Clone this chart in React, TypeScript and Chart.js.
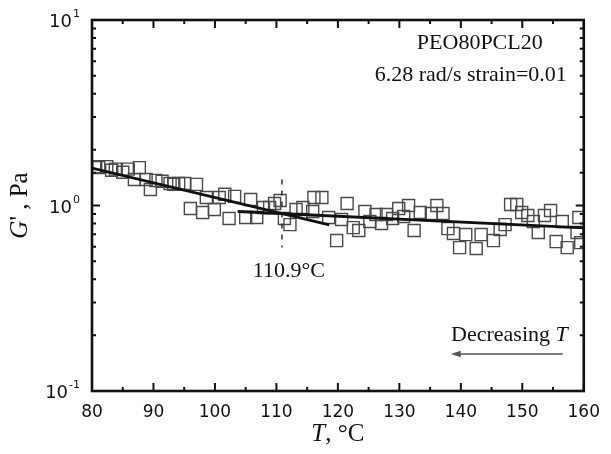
import React, { useEffect, useRef } from 'react';
import { Chart, registerables } from 'chart.js';

Chart.register(...registerables);

// ---- data ----
const temps = [
  80.6, 81.1, 82.4, 83.2, 83.8, 85.0, 85.9, 86.9, 87.7, 88.8,
  89.5, 90.4, 91.4, 92.7, 93.3, 94.1, 95.1, 96.0, 97.0, 98.0,
  98.6, 99.9, 100.7, 101.6, 102.3, 103.2, 105.0, 105.8, 106.8, 107.9,
  108.9, 109.7, 110.6, 111.3, 112.2, 113.2, 114.3, 115.9, 116.1, 117.4,
  118.5, 119.8, 120.6, 121.5, 122.5, 123.4, 124.4, 125.2, 126.2, 127.1,
  127.9, 128.9, 129.9, 130.7, 131.5, 132.4, 133.4, 135.2, 136.1, 137.1,
  137.9, 138.8, 139.8, 140.8, 142.5, 143.3, 145.3, 146.4, 147.2, 148.1,
  149.1, 149.9, 150.9, 151.8, 152.6, 153.6, 154.6, 155.5, 156.5, 157.3,
  158.9, 159.2, 159.5,
];
const gPrime = [
  1.62, 1.60, 1.62, 1.55, 1.57, 1.51, 1.57, 1.38, 1.60, 1.38,
  1.22, 1.365, 1.35, 1.315, 1.30, 1.315, 1.315, 0.963, 1.30, 0.917,
  1.105, 0.951, 1.105, 1.15, 0.851, 1.12, 0.861, 1.077, 0.861, 0.975,
  0.975, 1.025, 1.064, 0.851, 0.789, 0.951, 0.975, 0.928, 1.105, 1.105,
  0.861, 0.647, 0.840, 1.025, 0.760, 0.733, 0.928, 0.820, 0.894, 0.800,
  0.894, 0.851, 0.963, 0.872, 1.0, 0.733, 0.917, 0.905, 1.0, 0.905,
  0.751, 0.706, 0.593, 0.697, 0.586, 0.697, 0.647, 0.742, 0.789, 1.013,
  1.013, 0.917, 0.883, 0.820, 0.715, 0.883, 0.940, 0.639, 0.820, 0.593,
  0.715, 0.861, 0.631,
];
const lowTFitT = [80, 118.6];
const lowTFitG = [1.59, 0.787];
const highTFitT = [103.7, 160];
const highTFitG = [0.928, 0.758];
const transitionT = 110.9;
const transitionLineG = [1.38, 0.593];
const transitionLabel = '110.9°C';
const sampleName = 'PEO80PCL20';
const testConditions = '6.28 rad/s strain=0.01';
const yTickBase = '10';
const yTickExponents: Record<number, string> = { 1: '1', 0: '0', [-1]: '-1' };

const SERIF = '"Liberation Serif", "Times New Roman", serif';
const SANS = '"DejaVu Sans", sans-serif';

type Part = { text: string; italic?: boolean };

function drawRich(ctx: CanvasRenderingContext2D, parts: Part[], x: number, y: number, align: 'left' | 'center' | 'right', size: number) {
  const fonts = parts.map((p) => `${p.italic ? 'italic ' : ''}${size}px ${SERIF}`);
  const widths = parts.map((p, i) => {
    ctx.font = fonts[i];
    return ctx.measureText(p.text).width;
  });
  const total = widths.reduce((a, b) => a + b, 0);
  let cx = align === 'left' ? x : align === 'center' ? x - total / 2 : x - total;
  ctx.textAlign = 'left';
  ctx.textBaseline = 'alphabetic';
  parts.forEach((p, i) => {
    ctx.font = fonts[i];
    ctx.fillText(p.text, cx, y);
    cx += widths[i];
  });
}

const framePlugin = {
  id: 'framePlugin',
  afterDraw(chart: any) {
    const { ctx, chartArea, scales } = chart;
    const { left, right, top, bottom } = chartArea;
    const x = scales.x;
    const y = scales.y;
    ctx.save();
    ctx.strokeStyle = '#111';
    ctx.fillStyle = '#111';
    ctx.lineWidth = 2;
    ctx.beginPath();
    for (const t of x.ticks) {
      const px = x.getPixelForValue(t.value);
      const major = Math.abs(t.value % 10) < 1e-9;
      const len = major ? 8 : 4;
      ctx.moveTo(px, bottom);
      ctx.lineTo(px, bottom - len);
      ctx.moveTo(px, top);
      ctx.lineTo(px, top + len);
    }
    for (const t of y.ticks) {
      const py = y.getPixelForValue(t.value);
      const l = Math.log10(t.value);
      const major = Math.abs(l - Math.round(l)) < 1e-6;
      const len = major ? 8 : 4;
      ctx.moveTo(left, py);
      ctx.lineTo(left + len, py);
      ctx.moveTo(right, py);
      ctx.lineTo(right - len, py);
    }
    ctx.stroke();
    ctx.lineWidth = 2.6;
    ctx.strokeRect(left, top, right - left, bottom - top);

    // y tick labels with superscript exponents
    ctx.fillStyle = '#111';
    ctx.textBaseline = 'alphabetic';
    for (const t of y.ticks) {
      const l = Math.log10(t.value);
      const r = Math.round(l);
      if (Math.abs(l - r) > 1e-6) continue;
      const exp = yTickExponents[r];
      if (exp === undefined) continue;
      const py = y.getPixelForValue(t.value);
      ctx.font = `11px ${SANS}`;
      const ew = ctx.measureText(exp).width;
      ctx.font = `18px ${SANS}`;
      const bw = ctx.measureText(yTickBase).width;
      const xEnd = left - 12;
      ctx.textAlign = 'left';
      ctx.fillText(yTickBase, xEnd - ew - 1 - bw, py + 7);
      ctx.font = `11px ${SANS}`;
      ctx.fillText(exp, xEnd - ew, py - 3);
    }

    // annotations
    drawRich(ctx, [{ text: sampleName }], right - 104, top + 29, 'center', 22);
    drawRich(ctx, [{ text: testConditions }], right - 113, top + 61, 'center', 22);
    drawRich(ctx, [{ text: transitionLabel }], x.getPixelForValue(transitionT) + 7, 277, 'center', 22);
    drawRich(ctx, [{ text: 'Decreasing ' }, { text: 'T', italic: true }], right - 16, bottom - 50, 'right', 22);

    // arrow
    const ay = bottom - 37;
    const ax1 = right - 21;
    const ax2 = right - 133;
    ctx.strokeStyle = '#555';
    ctx.fillStyle = '#555';
    ctx.lineWidth = 1.6;
    ctx.beginPath();
    ctx.moveTo(ax1, ay);
    ctx.lineTo(ax2 + 6, ay);
    ctx.stroke();
    ctx.beginPath();
    ctx.moveTo(ax2, ay);
    ctx.lineTo(ax2 + 10, ay - 3.2);
    ctx.lineTo(ax2 + 10, ay + 3.2);
    ctx.closePath();
    ctx.fill();

    // axis titles
    ctx.fillStyle = '#111';
    drawRich(ctx, [{ text: 'T', italic: true }, { text: ', °C' }], (left + right) / 2, 441, 'center', 25);
    ctx.save();
    ctx.translate(27, (top + bottom) / 2);
    ctx.rotate(-Math.PI / 2);
    drawRich(ctx, [{ text: 'G', italic: true }, { text: "' , Pa" }], 0, 0, 'center', 25);
    ctx.restore();
    ctx.restore();
  },
};

export default function App() {
  const ref = useRef<HTMLCanvasElement | null>(null);
  useEffect(() => {
    if (!ref.current) return;
    const chart = new Chart(ref.current, {
      type: 'scatter',
      data: {
        datasets: [
          {
            data: lowTFitT.map((t, i) => ({ x: t, y: lowTFitG[i] })),
            showLine: true,
            borderColor: '#111',
            borderWidth: 2.8,
            pointRadius: 0,
            order: 0,
          },
          {
            data: highTFitT.map((t, i) => ({ x: t, y: highTFitG[i] })),
            showLine: true,
            borderColor: '#111',
            borderWidth: 2.8,
            pointRadius: 0,
            order: 0,
          },
          {
            data: transitionLineG.map((g) => ({ x: transitionT, y: g })),
            showLine: true,
            borderColor: '#222',
            borderWidth: 1.4,
            borderDash: [5, 6],
            pointRadius: 0,
            order: 0,
          },
          {
            data: temps.map((t, i) => ({ x: t, y: gPrime[i] })),
            pointStyle: 'rect',
            pointRadius: 8.5,
            borderColor: '#4a4a4a',
            borderWidth: 1.4,
            backgroundColor: 'rgba(0,0,0,0)',
            showLine: false,
            order: 1,
          },
        ],
      } as any,
      options: {
        responsive: false,
        animation: false,
        layout: { padding: { left: 0, right: 19, top: 20, bottom: 0 } },
        plugins: { legend: { display: false }, tooltip: { enabled: false } },
        scales: {
          x: {
            type: 'linear',
            min: 80,
            max: 160,
            ticks: {
              stepSize: 5,
              autoSkip: false,
              maxRotation: 0,
              padding: 11,
              color: '#111',
              font: { family: SANS, size: 17 },
              callback: (v: any) => (Math.abs(Number(v) % 10) < 1e-9 ? String(v) : ''),
            },
            grid: { display: false, drawTicks: false },
            border: { display: false },
            afterFit: (s: any) => {
              s.height = 63;
            },
          },
          y: {
            type: 'logarithmic',
            min: 0.1,
            max: 10,
            ticks: {
              autoSkip: false,
              padding: 9,
              color: '#111',
              font: { family: SANS, size: 16 },
              callback: () => '',
            },
            grid: { display: false, drawTicks: false },
            border: { display: false },
            afterFit: (s: any) => {
              s.width = 92;
            },
          },
        },
      } as any,
      plugins: [framePlugin],
    });
    return () => chart.destroy();
  }, []);
  return (
    <div style={{ position: 'absolute', left: 0, top: 0, width: 611, height: 454, background: '#fff' }}>
      <canvas ref={ref} width={611} height={454} />
    </div>
  );
}
